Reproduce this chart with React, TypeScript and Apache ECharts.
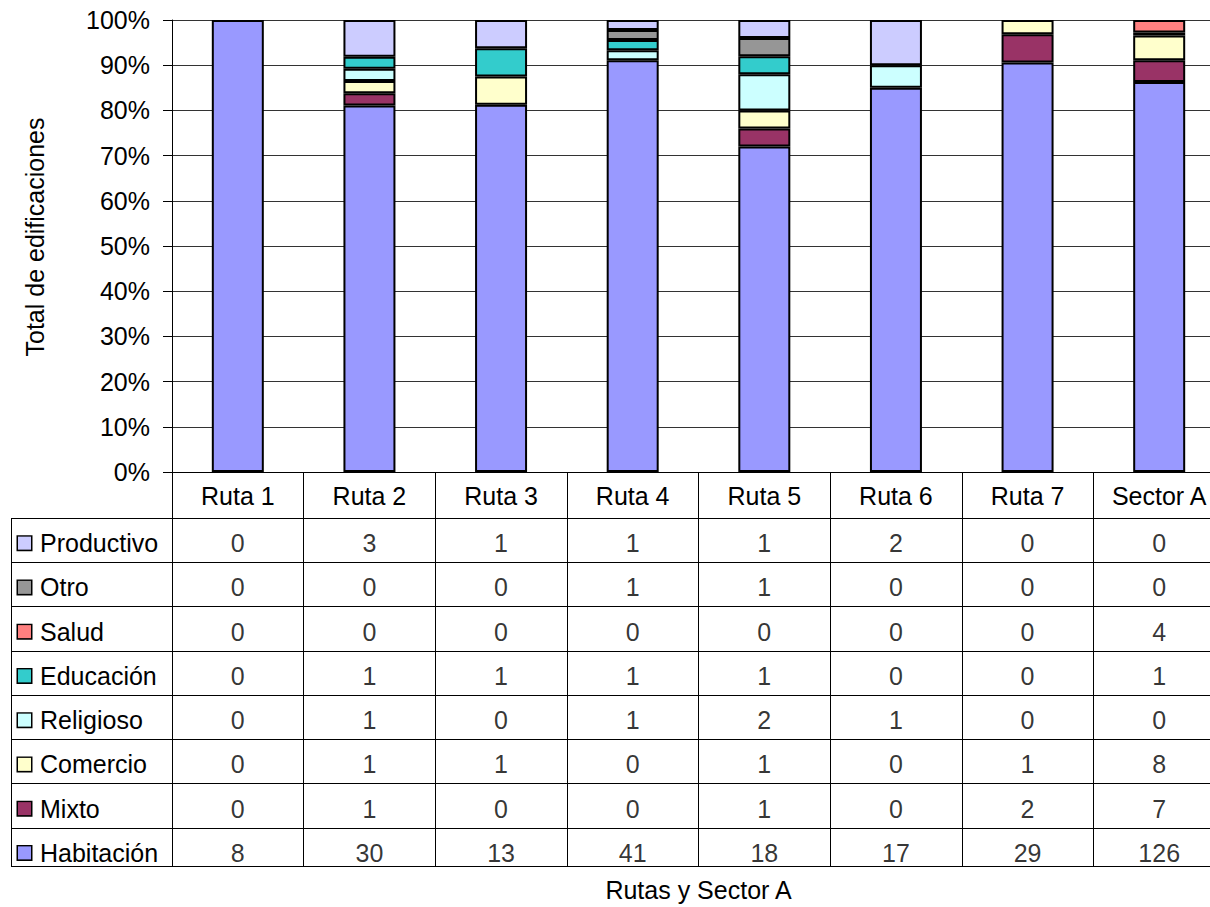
import React, { useEffect, useRef } from "react";
import * as echarts from "echarts";

const categories = ["Ruta 1", "Ruta 2", "Ruta 3", "Ruta 4", "Ruta 5", "Ruta 6", "Ruta 7", "Sector A"];
const seriesNames = ["Habitación", "Mixto", "Comercio", "Religioso", "Educación", "Salud", "Otro", "Productivo"];
const habitacion = [8, 30, 13, 41, 18, 17, 29, 126];
const mixto = [0, 1, 0, 0, 1, 0, 2, 7];
const comercio = [0, 1, 1, 0, 1, 0, 1, 8];
const religioso = [0, 1, 0, 1, 2, 1, 0, 0];
const educacion = [0, 1, 1, 1, 1, 0, 0, 1];
const salud = [0, 0, 0, 0, 0, 0, 0, 4];
const otro = [0, 0, 0, 1, 1, 0, 0, 0];
const productivo = [0, 3, 1, 1, 1, 2, 0, 0];
const colors = ["#9999FF", "#993366", "#FFFFCC", "#CCFFFF", "#33CCCC", "#FF8080", "#969696", "#CCCCFF"];
const yTicks = { min: 0, max: 100, interval: 10 };

const FONT = 'Arial, "Liberation Sans", sans-serif';
const FS = 25;

export default function App() {
  const ref = useRef<HTMLDivElement>(null);
  useEffect(() => {
    if (!ref.current) return;
    const chart = echarts.init(ref.current, undefined, { renderer: "svg" });
    const values = [habitacion, mixto, comercio, religioso, educacion, salud, otro, productivo];
    const totals = categories.map((_, i) => values.reduce((s, arr) => s + arr[i], 0));

    const barSeries = values.map((arr, k) => ({
      type: "bar",
      name: seriesNames[k],
      stack: "total",
      xAxisIndex: 0,
      yAxisIndex: 0,
      barWidth: 52,
      itemStyle: { color: colors[k], borderColor: "#000", borderWidth: 2 },
      data: arr.map((v, i) => (v === 0 ? "-" : (v / totals[i]) * 100)),
    }));

    const tableData: any[] = [];
    values.forEach((arr, k) => arr.forEach((v, i) => tableData.push([i, k, v])));

    const rich: any = {
      g: { width: 9 },
      t: { fontSize: FS, fontFamily: FONT, color: "#000" },
    };
    colors.forEach((c, k) => {
      rich["s" + k] = { width: 13, height: 13, backgroundColor: c, borderColor: "#000", borderWidth: 1.5 };
    });

    chart.setOption({
      animation: false,
      textStyle: { fontFamily: FONT },
      grid: [
        { left: 172, right: 1, top: 20, height: 452 },
        { left: 172, right: 1, top: 518, height: 354 },
      ],
      xAxis: [
        {
          type: "category",
          gridIndex: 0,
          data: categories,
          axisLine: { lineStyle: { color: "#000", width: 1 } },
          axisTick: { show: true, interval: 0, length: 394, lineStyle: { color: "#000", width: 1 } },
          axisLabel: { fontSize: FS, color: "#000", margin: 11, fontFamily: FONT, interval: 0 },
          name: "Rutas y Sector A",
          nameLocation: "middle",
          nameGap: 405,
          nameTextStyle: { fontSize: FS, color: "#000", fontFamily: FONT },
        },
        { type: "category", gridIndex: 1, data: categories, show: false },
      ],
      yAxis: [
        {
          type: "value",
          gridIndex: 0,
          min: yTicks.min,
          max: yTicks.max,
          interval: yTicks.interval,
          axisLine: { show: true, lineStyle: { color: "#000", width: 1 } },
          axisTick: { show: true, length: 9, lineStyle: { color: "#000" } },
          axisLabel: { formatter: "{value}%", fontSize: FS, color: "#000", margin: 22, fontFamily: FONT },
          splitLine: { show: true, lineStyle: { color: "#333", width: 1 } },
        },
        {
          type: "category",
          gridIndex: 1,
          data: seriesNames,
          axisLine: { show: false },
          axisTick: { show: true, length: 161, lineStyle: { color: "#000", width: 1 } },
          splitLine: { show: true, lineStyle: { color: "#000", width: 1 } },
          axisLabel: {
            align: "left",
            margin: 154,
            padding: [6, 0, 0, 0],
            formatter: (v: string) => `{s${seriesNames.indexOf(v)}|}{g|}{t|${v}}`,
            rich,
          },
        },
      ],
      series: [
        ...barSeries,
        {
          type: "scatter",
          xAxisIndex: 1,
          yAxisIndex: 1,
          symbolSize: 1,
          itemStyle: { color: "rgba(0,0,0,0)" },
          label: {
            show: true,
            position: "inside",
            offset: [0, 3],
            formatter: (p: any) => String(p.value[2]),
            fontSize: FS,
            color: "#000",
            fontFamily: FONT,
          },
          data: tableData,
        },
      ],
      graphic: [
        { type: "rect", z: 100, shape: { x: 0, y: 867, width: 1300, height: 14 }, style: { fill: "#fff" } },
        { type: "line", z: 101, shape: { x1: 11, y1: 866.5, x2: 1300, y2: 866.5 }, style: { stroke: "#000", lineWidth: 1 } },
        { type: "line", z: 101, shape: { x1: 11.5, y1: 518, x2: 11.5, y2: 867 }, style: { stroke: "#000", lineWidth: 1 } },
        {
          type: "text",
          z: 101,
          x: 35,
          y: 237,
          rotation: Math.PI / 2,
          style: { text: "Total de edificaciones", fontSize: FS, fontFamily: FONT, fill: "#000", align: "center", verticalAlign: "middle" },
        },
      ],
    });
    return () => chart.dispose();
  }, []);
  return (
    <div style={{ position: "absolute", left: 0, top: 0, width: 1210, height: 907, overflow: "hidden", background: "#fff" }}>
      <div ref={ref} style={{ width: 1226, height: 907 }} />
    </div>
  );
}
